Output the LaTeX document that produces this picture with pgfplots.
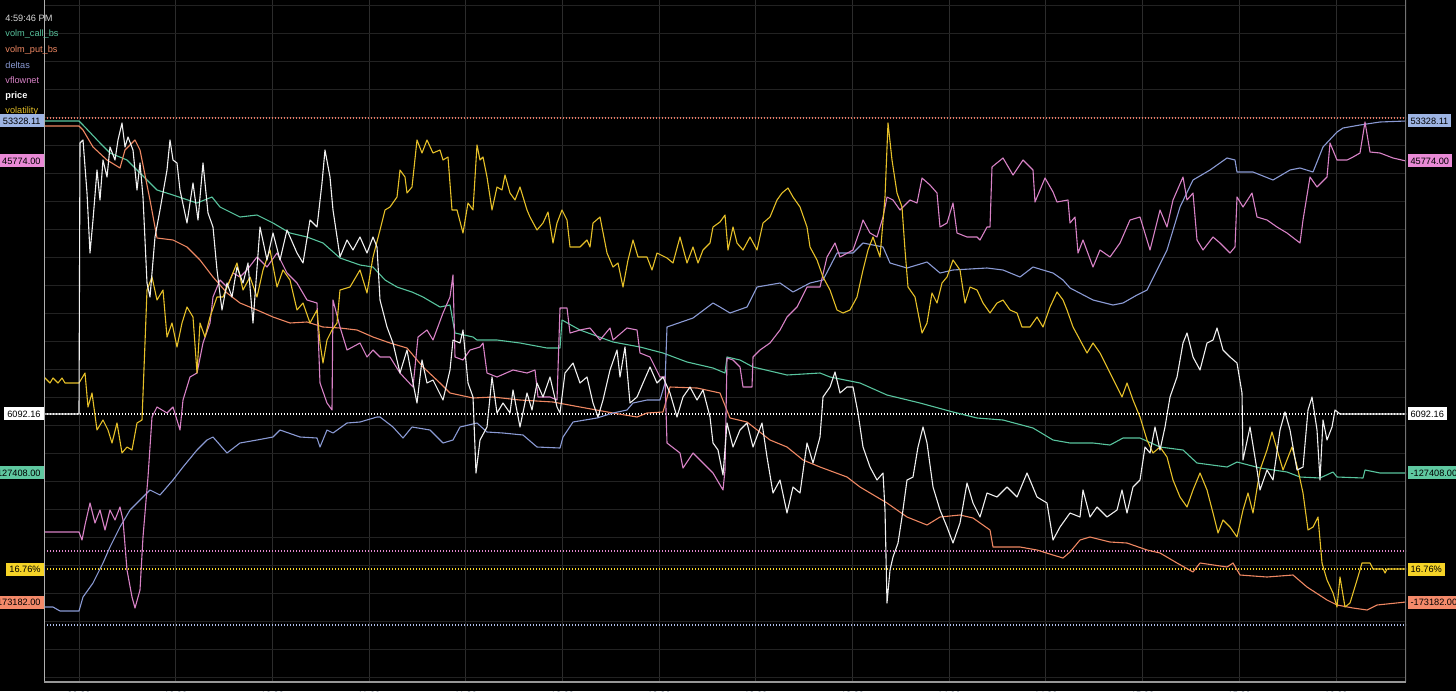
\documentclass[border=0pt]{standalone}
\usepackage{fontspec}
\setmainfont{Liberation Sans}
\usepackage{pgfplots}
\pgfplotsset{compat=1.18}
\definecolor{cCall}{RGB}{88,196,158}
\definecolor{cPut}{RGB}{238,135,98}
\definecolor{cDelta}{RGB}{138,154,212}
\definecolor{cFlow}{RGB}{216,130,198}
\definecolor{cPrice}{RGB}{240,240,240}
\definecolor{cVol}{RGB}{230,192,40}
\definecolor{cGridY}{RGB}{34,34,34}
\definecolor{cGridX}{RGB}{44,44,44}
\definecolor{bCall}{RGB}{95,200,160}
\definecolor{bPut}{RGB}{244,138,106}
\definecolor{bDelta}{RGB}{157,180,227}
\definecolor{bFlow}{RGB}{233,138,214}
\definecolor{bVol}{RGB}{245,211,39}
\definecolor{cTick}{RGB}{70,86,108}
\definecolor{cTopDot}{RGB}{230,120,100}
\definecolor{cPinkDot}{RGB}{225,135,205}
\definecolor{cYelDot}{RGB}{250,215,40}
\definecolor{cLowDot}{RGB}{175,190,235}
\newcommand{\fs}{\fontsize{4.6}{5}\selectfont}
\begin{document}
\begin{tikzpicture}[x=1pt,y=1pt]
\path[use as bounding box, fill=black] (0,0) rectangle (728,345.5);
\begin{axis}[
  at={(22pt,4.5pt)}, anchor=south west,
  width=681pt, height=341pt, scale only axis,
  xmin=44, xmax=1406, ymin=0, ymax=682, y dir=reverse,
  axis line style={draw=none},
  tick style={draw=none},
  xtick={79,175.7,272.4,369.1,465.8,562.5,659.1,755.8,852.5,949.2,1045.9,1142.6,1239.3,1336},
  xticklabels={09:30,10:00,10:30,11:00,11:30,12:00,12:30,13:00,13:30,14:00,14:30,15:00,15:30,16:00},
  xticklabel style={font=\fs, text=cTick, yshift=-1.5pt},
  ytick={5,33,...,677},
  yticklabel={},
  xmajorgrids, ymajorgrids,
  x grid style={cGridX, line width=0.5pt},
  y grid style={cGridY, line width=0.5pt},
  every axis plot/.append style={line width=0.55pt, line join=round},
  dotlvl/.style={dash pattern=on 0.55pt off 0.95pt, line width=0.65pt},
]
% reference dotted levels
\addplot[cTopDot, dotlvl] coordinates {(44,118)(1406,118)};
\addplot[white, dotlvl] coordinates {(44,414)(1406,414)};
\addplot[cPinkDot, dotlvl] coordinates {(44,551)(1406,551)};
\addplot[cYelDot, dotlvl] coordinates {(44,569)(1406,569)};
\addplot[cLowDot, dotlvl] coordinates {(44,625)(1406,625)};
% volm_call_bs
\addplot[cCall] coordinates {(44,121)(79,121)(83,125)(100,143)(110,153)(127,160)(140,173)(157,190)(173,195)(197,203)(212,197)(220,207)(240,217)(257,215)(273,223)(290,233)(307,237)(323,243)(340,258)(360,265)(373,267)(385,280)(397,287)(412,292)(423,297)(440,307)(450,305)(455,333)(473,337)(477,340)(497,340)(520,343)(547,348)(560,348)(562,320)(580,330)(613,342)(640,347)(663,353)(687,362)(713,368)(725,373)(727,357)(740,360)(753,367)(787,375)(820,373)(830,377)(860,383)(887,395)(920,403)(953,412)(977,418)(1003,420)(1033,428)(1053,440)(1070,443)(1093,443)(1110,445)(1123,438)(1140,438)(1160,447)(1183,450)(1197,463)(1227,467)(1237,462)(1260,468)(1287,472)(1300,477)(1320,478)(1333,472)(1337,477)(1363,478)(1365,470)(1380,473)(1406,473)};
% volm_put_bs
\addplot[cPut] coordinates {(44,126)(79,126)(83,130)(93,147)(107,160)(120,168)(125,150)(135,140)(140,150)(143,165)(150,200)(157,238)(173,240)(187,247)(200,260)(213,277)(227,293)(240,303)(257,310)(273,317)(290,323)(307,322)(323,327)(340,328)(357,330)(373,337)(390,343)(407,348)(423,367)(440,383)(450,393)(473,398)(493,397)(520,400)(553,402)(580,407)(613,413)(637,417)(647,413)(663,412)(670,387)(697,388)(720,393)(730,418)(747,422)(770,440)(787,447)(803,460)(820,467)(847,477)(860,487)(887,503)(907,517)(927,525)(940,517)(960,515)(973,518)(990,530)(993,547)(1020,547)(1037,550)(1053,555)(1063,558)(1070,552)(1080,540)(1090,537)(1110,542)(1127,543)(1147,550)(1160,553)(1177,563)(1193,572)(1200,563)(1227,567)(1233,563)(1240,575)(1267,577)(1293,575)(1307,587)(1327,600)(1337,605)(1353,608)(1367,610)(1377,605)(1406,602)};
% deltas
\addplot[cDelta] coordinates {(44,607)(53,607)(60,611)(79,611)(83,597)(93,583)(103,563)(110,547)(120,527)(130,510)(140,500)(150,490)(160,495)(173,480)(183,467)(197,450)(207,440)(213,437)(227,453)(240,443)(257,440)(273,437)(280,430)(300,437)(317,438)(320,447)(327,430)(333,433)(347,423)(360,422)(377,417)(380,417)(393,427)(403,438)(412,427)(430,430)(443,443)(453,440)(460,427)(477,423)(487,432)(503,433)(523,435)(537,447)(560,448)(563,437)(573,422)(597,418)(613,413)(627,410)(633,403)(647,400)(660,400)(665,383)(667,327)(693,318)(713,303)(720,307)(730,313)(747,307)(757,287)(780,283)(793,292)(810,283)(823,280)(837,253)(853,253)(863,243)(883,247)(890,263)(907,268)(927,262)(940,273)(953,270)(987,268)(1003,270)(1020,277)(1033,267)(1053,273)(1063,280)(1070,288)(1093,300)(1113,305)(1123,303)(1137,295)(1147,290)(1157,270)(1167,250)(1180,207)(1193,180)(1210,170)(1227,158)(1235,160)(1237,172)(1253,172)(1273,180)(1290,170)(1300,168)(1313,172)(1323,147)(1337,132)(1343,128)(1360,125)(1380,122)(1406,121)};
% vflownet
\addplot[cFlow] coordinates {(44,532)(79,532)(82,540)(85,525)(90,503)(95,523)(100,510)(105,530)(110,510)(115,520)(120,507)(123,520)(127,570)(132,597)(135,608)(140,590)(143,537)(148,477)(152,417)(157,407)(167,413)(173,407)(180,430)(183,400)(190,377)(197,373)(203,343)(210,323)(213,297)(220,280)(227,287)(233,273)(240,277)(247,270)(257,257)(267,267)(277,253)(287,273)(297,283)(307,300)(317,303)(320,383)(327,403)(332,410)(333,300)(340,327)(347,350)(360,343)(367,357)(373,350)(380,357)(390,357)(400,373)(413,387)(418,337)(427,330)(433,340)(443,313)(450,297)(453,275)(455,357)(463,360)(470,350)(480,347)(483,343)(487,373)(497,377)(513,370)(527,373)(535,370)(538,397)(550,397)(557,400)(560,308)(567,308)(570,333)(580,330)(590,328)(600,340)(610,328)(613,340)(627,328)(637,330)(640,353)(650,357)(660,377)(665,377)(667,443)(680,453)(683,468)(693,453)(703,463)(713,473)(723,490)(725,470)(727,358)(733,360)(740,367)(743,387)(752,387)(753,357)(760,350)(770,343)(780,330)(787,317)(797,307)(807,287)(820,287)(827,257)(835,243)(840,257)(853,250)(860,230)(863,220)(870,233)(877,237)(883,217)(887,197)(893,200)(900,210)(910,200)(917,203)(922,178)(930,185)(937,193)(940,227)(947,223)(953,203)(957,233)(967,237)(977,237)(980,240)(987,227)(990,227)(992,167)(1003,158)(1013,175)(1023,160)(1033,170)(1035,202)(1045,178)(1053,192)(1057,202)(1068,200)(1070,223)(1075,217)(1078,253)(1083,240)(1093,267)(1100,250)(1110,257)(1120,243)(1130,220)(1140,217)(1150,250)(1160,210)(1167,227)(1173,200)(1183,177)(1187,200)(1193,193)(1197,240)(1203,250)(1213,237)(1220,243)(1230,253)(1235,247)(1237,197)(1243,207)(1252,193)(1257,217)(1267,220)(1277,227)(1287,233)(1300,243)(1303,220)(1310,177)(1317,187)(1327,177)(1330,143)(1337,160)(1347,160)(1353,157)(1360,153)(1365,122)(1370,152)(1380,153)(1393,158)(1406,161)};
% volatility
\addplot[cVol] coordinates {(44,377)(50,383)(53,378)(58,383)(62,378)(65,383)(79,383)(85,373)(88,407)(92,393)(97,430)(103,420)(108,430)(112,443)(117,423)(122,453)(127,447)(132,450)(137,423)(142,420)(145,343)(147,290)(152,277)(157,300)(163,290)(167,337)(172,323)(177,347)(182,323)(187,307)(193,317)(197,373)(200,323)(205,337)(210,317)(217,297)(223,297)(230,280)(237,263)(243,290)(250,277)(257,297)(263,270)(270,250)(277,287)(283,270)(290,280)(297,310)(303,303)(310,323)(317,310)(320,343)(323,363)(327,340)(332,330)(337,323)(340,290)(350,287)(360,270)(367,293)(373,257)(380,230)(385,210)(390,207)(397,197)(400,170)(405,177)(407,193)(412,187)(417,140)(422,153)(427,140)(433,153)(440,150)(443,160)(448,157)(452,210)(457,210)(463,233)(468,203)(473,210)(477,145)(480,160)(483,157)(487,177)(492,210)(497,187)(502,190)(505,175)(510,193)(515,200)(520,187)(527,210)(530,217)(537,230)(543,223)(548,212)(553,243)(557,223)(562,210)(567,220)(570,247)(580,247)(587,240)(590,247)(593,223)(600,217)(607,253)(613,267)(618,263)(623,287)(628,260)(633,240)(638,257)(647,257)(652,270)(657,253)(667,258)(673,263)(680,237)(687,263)(693,247)(698,263)(703,250)(710,243)(713,227)(720,222)(725,215)(728,250)(733,227)(737,243)(743,250)(750,237)(757,250)(763,223)(770,217)(777,200)(782,193)(788,188)(793,197)(800,207)(807,227)(810,247)(817,260)(823,277)(830,290)(837,310)(843,313)(850,310)(857,297)(863,270)(868,250)(873,237)(880,257)(885,197)(888,123)(892,160)(897,193)(902,207)(905,250)(908,287)(915,297)(922,333)(927,323)(932,293)(937,303)(942,283)(947,277)(953,260)(960,270)(965,303)(970,287)(977,290)(983,303)(990,313)(997,303)(1003,300)(1010,310)(1017,313)(1022,327)(1030,327)(1037,317)(1043,327)(1050,307)(1057,292)(1063,300)(1067,310)(1073,327)(1080,340)(1087,353)(1093,343)(1100,353)(1110,373)(1117,387)(1122,397)(1127,383)(1133,400)(1140,417)(1147,440)(1153,453)(1160,447)(1167,457)(1173,480)(1180,497)(1187,507)(1193,490)(1200,473)(1207,490)(1213,513)(1218,533)(1223,520)(1230,527)(1237,537)(1243,510)(1248,493)(1253,513)(1260,470)(1267,450)(1272,432)(1278,453)(1283,470)(1292,447)(1298,470)(1303,493)(1308,530)(1313,527)(1318,517)(1322,563)(1327,580)(1333,593)(1337,607)(1340,577)(1345,607)(1350,603)(1357,580)(1362,563)(1370,563)(1373,569)(1383,569)(1385,573)(1387,569)(1406,569)};
% price
\addplot[cPrice] coordinates {(44,414)(79,414)(80,143)(83,140)(87,193)(90,253)(93,220)(97,170)(100,200)(103,160)(107,177)(110,147)(115,160)(118,140)(122,123)(125,147)(128,137)(133,150)(137,190)(140,163)(143,197)(147,283)(150,297)(155,237)(160,210)(167,170)(170,140)(173,160)(177,163)(180,190)(187,223)(193,183)(198,220)(203,163)(208,213)(213,227)(217,270)(222,310)(227,283)(232,297)(237,267)(243,283)(248,263)(253,323)(260,227)(267,260)(273,233)(280,260)(287,230)(297,253)(303,263)(310,220)(317,227)(322,183)(325,150)(330,177)(333,210)(340,257)(347,240)(353,250)(360,237)(367,253)(373,237)(377,247)(380,300)(387,327)(393,343)(400,373)(407,350)(413,383)(417,403)(422,360)(427,383)(433,380)(443,400)(450,370)(453,340)(460,343)(463,330)(468,383)(473,397)(476,473)(480,440)(487,427)(492,377)(497,413)(503,403)(510,413)(513,390)(520,427)(527,393)(532,410)(537,383)(543,397)(550,377)(557,407)(560,413)(565,373)(573,363)(580,383)(587,377)(593,403)(598,417)(603,400)(610,370)(617,350)(620,377)(625,347)(630,403)(637,397)(643,383)(650,367)(657,383)(663,377)(670,393)(677,417)(683,397)(690,387)(697,400)(703,390)(710,417)(713,443)(718,450)(723,475)(727,423)(733,447)(740,430)(747,423)(753,447)(762,423)(767,457)(773,493)(780,480)(787,513)(793,487)(800,493)(807,443)(813,463)(820,437)(823,397)(830,387)(835,372)(840,393)(847,387)(853,387)(858,413)(863,447)(870,467)(877,480)(883,473)(885,510)(887,603)(890,570)(893,557)(898,543)(902,517)(907,480)(913,477)(918,447)(923,427)(927,443)(933,487)(940,510)(947,527)(953,543)(960,523)(967,483)(973,503)(980,517)(987,493)(997,497)(1007,487)(1017,497)(1027,473)(1037,497)(1047,503)(1053,540)(1060,527)(1070,513)(1080,517)(1083,490)(1090,517)(1097,507)(1107,517)(1117,510)(1122,490)(1127,513)(1133,487)(1140,480)(1145,447)(1150,453)(1155,427)(1160,450)(1165,427)(1170,397)(1177,377)(1183,343)(1187,333)(1193,357)(1200,370)(1207,343)(1213,340)(1217,328)(1223,350)(1230,357)(1237,363)(1242,393)(1243,460)(1250,427)(1257,470)(1260,490)(1267,470)(1273,480)(1280,430)(1285,412)(1290,430)(1297,470)(1303,467)(1308,410)(1312,397)(1317,430)(1320,480)(1323,420)(1327,440)(1332,427)(1335,410)(1340,414)(1406,414)};
% frame lines
\draw[color={rgb,255:red,175;green,175;blue,175}, line width=0.6pt] (axis cs:44,-10) -- (axis cs:44,682);
\draw[color={rgb,255:red,115;green,115;blue,115}, line width=0.6pt] (axis cs:1406,-10) -- (axis cs:1406,682);
\draw[color={rgb,255:red,150;green,150;blue,150}, line width=0.7pt] (axis cs:44,682) -- (axis cs:1406,682);
\end{axis}
% legend (top left)
\begin{scope}[every node/.style={anchor=west, inner sep=0pt, font=\fs}]
\node[text={rgb,255:red,215;green,215;blue,215}] at (2.5,336.5) {4:59:46 PM};
\node[text=cCall] at (2.5,328.5) {volm\_call\_bs};
\node[text=cPut] at (2.5,320.5) {volm\_put\_bs};
\node[text=cDelta] at (2.5,313) {deltas};
\node[text=cFlow] at (2.5,305.5) {vflownet};
\node[text=white] at (2.5,297.5) {\bfseries price};
\node[text=cVol] at (2.5,290) {volatility};
\end{scope}
% left value boxes
\begin{scope}[every node/.style={anchor=east, font=\fs, text=black, inner xsep=1.5pt, inner ysep=0pt, minimum height=6.5pt}]
\node[fill=bDelta] at (22,285) {53328.11};
\node[fill=bFlow] at (22,265) {45774.00};
\node[fill=white] at (22,138.5) {6092.16};
\node[fill=bCall] at (22,109) {-127408.00};
\node[fill=bVol] at (22,61) {16.76\%};
\node[fill=bPut] at (22,44.5) {-173182.00};
\end{scope}
% right value boxes
\begin{scope}[every node/.style={anchor=west, font=\fs, text=black, inner xsep=1.5pt, inner ysep=0pt, minimum height=6.5pt}]
\node[fill=bDelta] at (703.6,285) {53328.11};
\node[fill=bFlow] at (703.6,265) {45774.00};
\node[fill=white] at (703.6,138.5) {6092.16};
\node[fill=bCall] at (703.6,109) {-127408.00};
\node[fill=bVol] at (703.6,61) {16.76\%};
\node[fill=bPut] at (703.6,44.5) {-173182.00};
\end{scope}
\end{tikzpicture}
\end{document}
